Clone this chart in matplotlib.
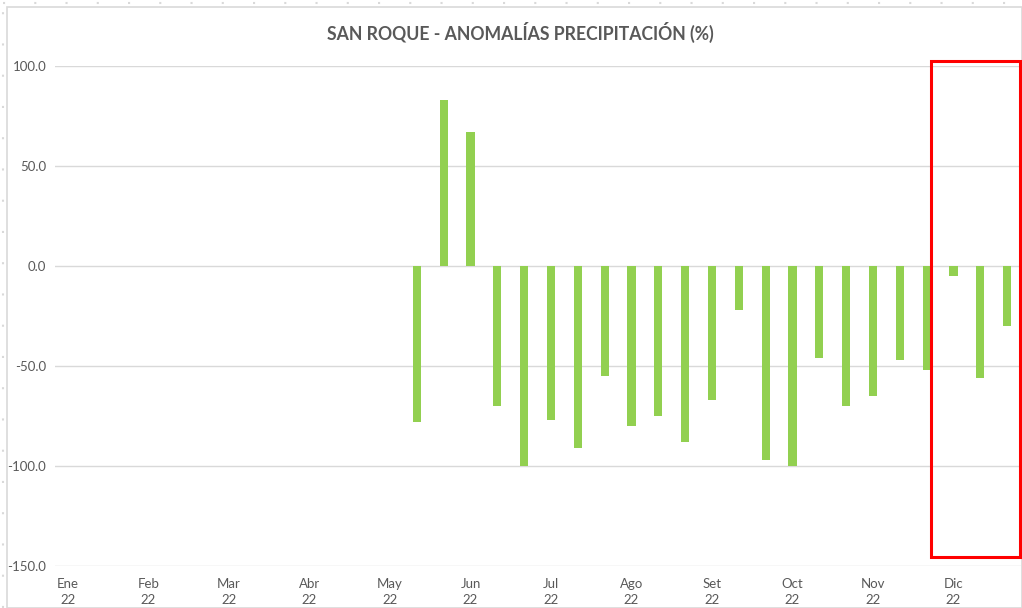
import matplotlib.pyplot as plt
from matplotlib.patches import Rectangle
from matplotlib.lines import Line2D

W, H = 1022, 608

months = ['Ene', 'Feb', 'Mar', 'Abr', 'May', 'Jun',
          'Jul', 'Ago', 'Set', 'Oct', 'Nov', 'Dic']
year = '22'

# anomalies per dekad (3 per month), None = no data
anomalies = [None] * 13 + [
    -78, 83, 67, -70, -100, -77, -91, -55, -80, -75, -88,
    -67, -22, -97, -100, -46, -70, -65, -47, -52, -5, -56, -30]

plt.rcParams['font.family'] = ['Lato', 'DejaVu Sans']

fig = plt.figure(figsize=(W / 100, H / 100), dpi=100)

# chart border and outer dotted frame
fig.patches.append(Rectangle((7 / W, 0), 1 - 7 / W, 1 - 7 / H, transform=fig.transFigure,
                             fill=False, edgecolor='#D9D9D9', linewidth=1.2))
fig.lines.append(Line2D([3 / W, 3 / W], [0, 1 - 3 / H], transform=fig.transFigure,
                        color='#D9D9D9', linestyle=(0, (1, 14)), linewidth=1.5))
fig.lines.append(Line2D([3 / W, 1], [1 - 3 / H, 1 - 3 / H], transform=fig.transFigure,
                        color='#D9D9D9', linestyle=(0, (1, 14)), linewidth=1.5))

left, right = 54.6, 1020.6
top, bottom = 66, 566
ax = fig.add_axes([left / W, (H - bottom) / H, (right - left) / W, (bottom - top) / H])

xs = [i for i, v in enumerate(anomalies) if v is not None]
vals = [v for v in anomalies if v is not None]
ax.bar(xs, vals, width=0.3, color='#92D050', zorder=3)

ax.set_xlim(-0.5, len(anomalies) - 0.5)
ax.set_ylim(-150, 100)
ax.set_yticks([-150, -100, -50, 0, 50, 100])
ax.set_yticklabels([f'{v:.1f}' for v in [-150, -100, -50, 0, 50, 100]])
ax.set_xticks(range(0, len(anomalies), 3))
ax.set_xticklabels([f'{m}\n{year}' for m in months], linespacing=1.35)
ax.tick_params(axis='both', length=0, labelsize=9.5, labelcolor='#595959')
ax.tick_params(axis='y', pad=6)
ax.tick_params(axis='x', pad=9)
ax.grid(axis='y', color='#D9D9D9', linewidth=1, zorder=0)
for s in ax.spines.values():
    s.set_visible(False)

fig.text(520 / W, 1 - 32 / H, 'SAN ROQUE - ANOMALÍAS PRECIPITACIÓN (%)',
         ha='center', va='center', fontsize=12.7, fontweight='bold', color='#595959')

# highlight box around December
fig.patches.append(Rectangle((931 / W, 1 - 557 / H), 89 / W, 496 / H, transform=fig.transFigure,
                             fill=False, edgecolor='#FF0000', linewidth=2.2, zorder=10))

fig.savefig('out.png', dpi=100)
